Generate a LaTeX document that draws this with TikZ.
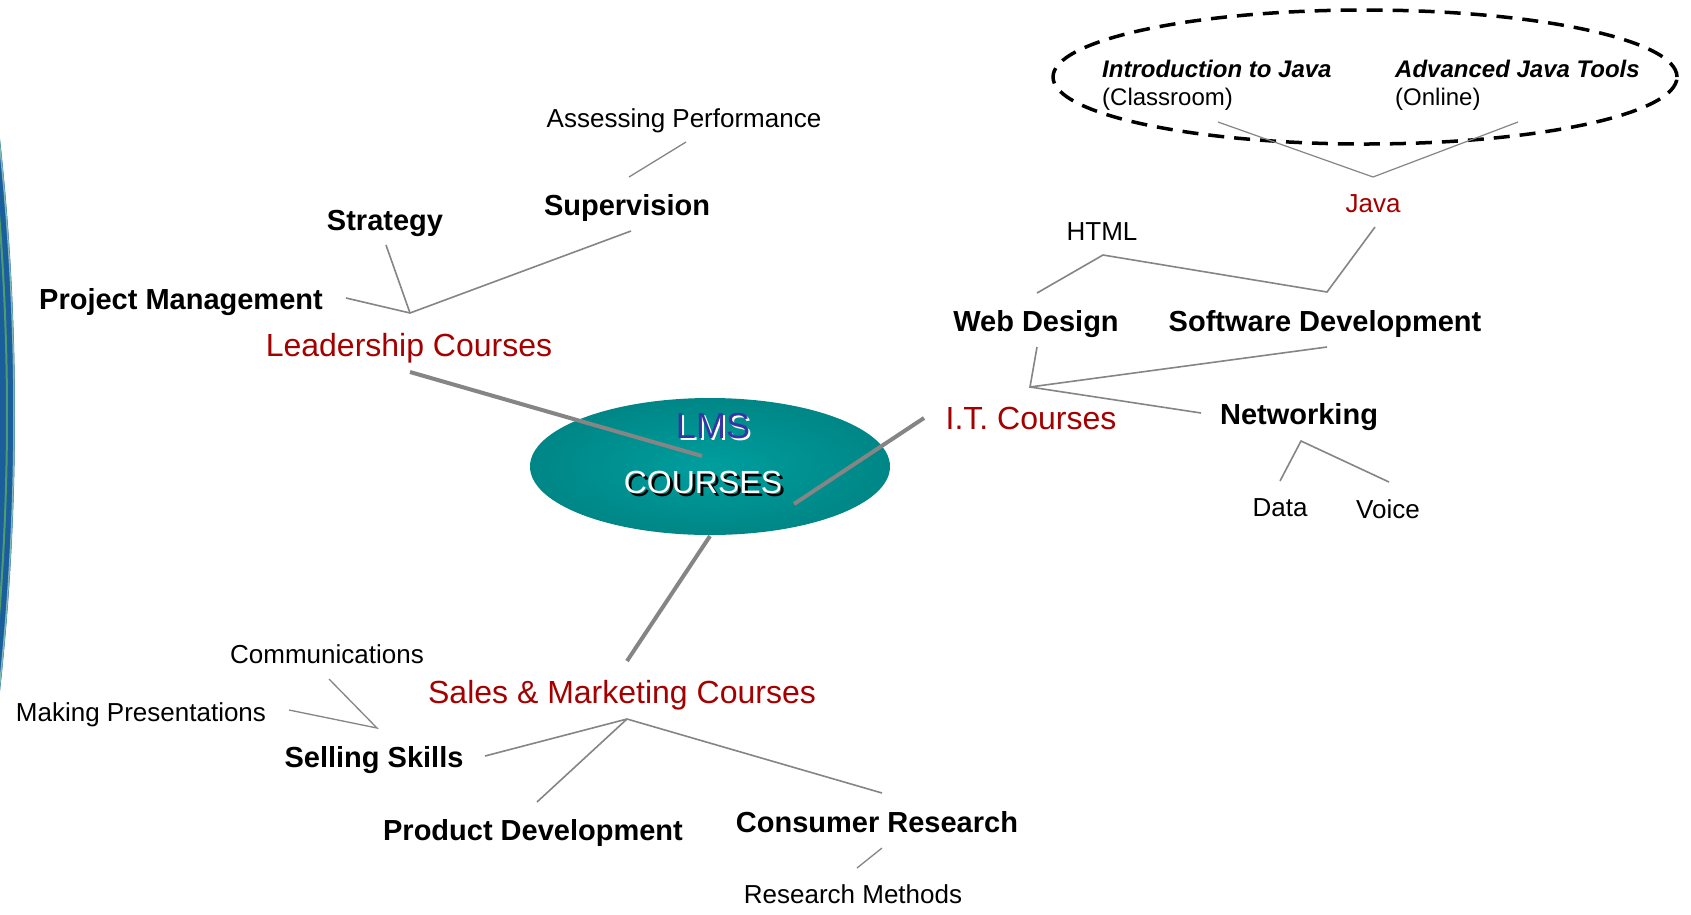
\documentclass[tikz,border=0pt]{standalone}
\usepackage{fontspec}
\setmainfont{Liberation Sans}
\usetikzlibrary{shapes.geometric}
\definecolor{dred}{HTML}{A50000}
\definecolor{lgray}{HTML}{858585}
\definecolor{lmsblue}{HTML}{3535A5}
\definecolor{arcblue}{HTML}{1B5E9C}
\definecolor{arcgreen}{HTML}{4E9C6E}
\definecolor{arcedge}{HTML}{7FB8B8}
\pgfdeclareradialshading{lmsshade}{\pgfpoint{0bp}{0bp}}{rgb(0bp)=(0,0.62,0.62); rgb(50bp)=(0,0.43,0.43)}
\begin{document}
\begin{tikzpicture}[x=1pt,y=-1pt,
  bold/.style={font=\fontsize{29}{34}\selectfont\bfseries, inner sep=0pt},
  course/.style={font=\fontsize{32}{38}\selectfont, text=dred, inner sep=0pt},
  minor/.style={font=\fontsize{26}{31}\selectfont, inner sep=0pt},
  bolditem/.style={font=\fontsize{24}{29}\selectfont\bfseries\itshape, inner sep=0pt, anchor=west},
  plainitem/.style={font=\fontsize{24}{29}\selectfont, inner sep=0pt, anchor=west},
  twig/.style={draw=lgray, line width=1.6pt},
  branch/.style={draw=lgray, line width=4pt},
  ]
\useasboundingbox (0,0) rectangle (1691,914);
\fill[white] (0,0) rectangle (1691,914);

% left arc (edge of a large disc)
\begin{scope}
  \clip (0,0) rectangle (1691,914);
  \fill[arcblue] (-2501,415) circle [radius=2516pt];
  \draw[arcedge, line width=1.5pt] (-2501,415) circle [radius=2515pt];
  \draw[arcgreen, line width=2pt] (-2501,415) circle [radius=2508pt];
\end{scope}

% centre
\node[ellipse, minimum width=360pt, minimum height=137pt, inner sep=0pt, shading=lmsshade] (lms) at (710,466.5) {};
\node[font=\fontsize{36}{40}\selectfont, text=white, inner sep=0pt] (lmsshadow) at (715,428) {LMS};
\node[font=\fontsize{36}{40}\selectfont, text=lmsblue, inner sep=0pt] (lmstitle) at (713,426) {LMS};
\node[font=\fontsize{32}{38}\selectfont, text=black, inner sep=0pt] (crshadow) at (706,485) {COURSES};
\node[font=\fontsize{32}{38}\selectfont, text=white, inner sep=0pt] (crtitle) at (703,482) {COURSES};

% Leadership branch
\node[bold] (pm) at (181,302) {Project Management};
\node[bold] (strat) at (385,223) {Strategy};
\node[bold] (sup) at (627,208) {Supervision};
\node[minor] (assess) at (684,121) {Assessing Performance};
\node[course] (lead) at (409,348) {Leadership Courses};
\coordinate (jL) at (410,313);
\coordinate (pmE) at (346,298);
\coordinate (stE) at (386,245);
\coordinate (supE) at (631,231);
\coordinate (supT) at (629,177);
\coordinate (asE) at (686,142);
\coordinate (leadE) at (410,372);
\coordinate (cL) at (702,456);
\draw[twig] (pmE) -- (jL) -- (supE);
\draw[twig] (stE) -- (jL);
\draw[twig, line width=1.3pt] (supT) -- (asE);
\draw[branch] (leadE) -- (cL);

% I.T. branch
\node[course] (it) at (1031,418) {I.T. Courses};
\node[bold] (web) at (1036,324) {Web Design};
\node[bold] (soft) at (1325,324) {Software Development};
\node[bold] (net) at (1299,417) {Networking};
\node[minor] (html) at (1102,232) {HTML};
\node[minor, text=dred] (java) at (1373,204) {Java};
\node[minor] (data) at (1280,508) {Data};
\node[minor] (voice) at (1388,509) {Voice};
\node[ellipse, draw=black, dash pattern=on 16pt off 10pt, line width=3.5pt, minimum width=624pt, minimum height=134pt, inner sep=0pt] (grp) at (1365,77) {};
\node[bolditem] (intro) at (1102,69) {Introduction to Java};
\node[plainitem] (classroom) at (1102,99) {(Classroom)};
\node[bolditem] (adv) at (1395,69) {Advanced Java Tools};
\node[plainitem] (online) at (1395,99) {(Online)};
\coordinate (itE) at (924,418);
\coordinate (cR) at (794,504);
\coordinate (jIT) at (1030,387);
\coordinate (webB) at (1037,347);
\coordinate (softB) at (1327,347);
\coordinate (netE) at (1201,413);
\coordinate (webT) at (1037,293);
\coordinate (jH) at (1103,255);
\coordinate (softT) at (1327,292);
\coordinate (javaB) at (1375,227);
\coordinate (jNet) at (1301,441);
\coordinate (dataT) at (1280,481);
\coordinate (voiceT) at (1389,482);
\coordinate (jJ) at (1373,177);
\coordinate (introB) at (1218,122);
\coordinate (advB) at (1518,122);
\draw[branch] (itE) -- (cR);
\draw[twig] (webB) -- (jIT) -- (softB);
\draw[twig] (jIT) -- (netE);
\draw[twig] (webT) -- (jH) -- (softT) -- (javaB);
\draw[twig] (dataT) -- (jNet) -- (voiceT);
\draw[twig, line width=1.2pt] (introB) -- (jJ) -- (advB);

% Sales branch
\node[course] (sales) at (622,695) {Sales \& Marketing Courses};
\node[bold] (sell) at (374,760) {Selling Skills};
\node[bold] (prod) at (533,833) {Product Development};
\node[bold] (cons) at (877,822) {Consumer Research};
\node[minor] (comm) at (327,654) {Communications};
\node[minor] (mp) at (141,715) {Making Presentations};
\node[minor] (rm) at (853,894) {Research Methods};
\coordinate (cB) at (710,536);
\coordinate (salesT) at (627,661);
\coordinate (jS) at (627,719);
\coordinate (sellE) at (485,756);
\coordinate (prodE) at (537,802);
\coordinate (consE) at (882,793);
\coordinate (jSS) at (377,728);
\coordinate (commE) at (329,679);
\coordinate (mpE) at (289,710);
\coordinate (consB) at (882,848);
\coordinate (rmT) at (857,868);
\draw[branch] (cB) -- (salesT);
\draw[twig] (sellE) -- (jS) -- (consE);
\draw[twig] (jS) -- (prodE);
\draw[twig, line width=1.3pt] (commE) -- (jSS) -- (mpE);
\draw[twig, line width=1.3pt] (consB) -- (rmT);
\end{tikzpicture}
\end{document}
